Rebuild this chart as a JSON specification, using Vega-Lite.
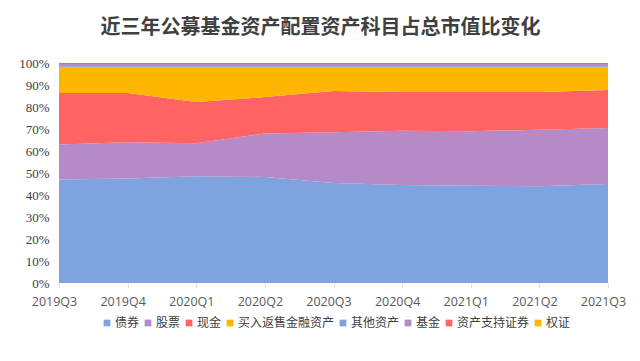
{
  "$schema": "https://vega.github.io/schema/vega-lite/v6.json",
  "width": 549,
  "height": 220,
  "autosize": {"type": "none"},
  "padding": {"left": 59, "top": 63, "right": 32, "bottom": 78},
  "background": "white",
  "title": {
    "text": "近三年公募基金资产配置资产科目占总市值比变化",
    "font": "Noto Sans CJK SC",
    "fontSize": 20,
    "fontWeight": "bold",
    "color": "#404040",
    "anchor": "middle",
    "dx": -13,
    "offset": 19
  },
  "config": {
    "view": {"stroke": null},
    "font": "Noto Sans CJK SC"
  },
  "data": {
    "values": [
      {"q": "2019Q3", "type": "债券", "k": 1, "v": 47.0},
      {"q": "2019Q3", "type": "股票", "k": 2, "v": 16.0},
      {"q": "2019Q3", "type": "现金", "k": 3, "v": 23.4},
      {"q": "2019Q3", "type": "买入返售金融资产", "k": 4, "v": 11.8},
      {"q": "2019Q3", "type": "其他资产", "k": 5, "v": 0.3},
      {"q": "2019Q3", "type": "基金", "k": 6, "v": 1.0},
      {"q": "2019Q3", "type": "资产支持证券", "k": 7, "v": 0.5},
      {"q": "2019Q3", "type": "权证", "k": 8, "v": 0.01},
      {"q": "2019Q4", "type": "债券", "k": 1, "v": 47.5},
      {"q": "2019Q4", "type": "股票", "k": 2, "v": 16.5},
      {"q": "2019Q4", "type": "现金", "k": 3, "v": 22.4},
      {"q": "2019Q4", "type": "买入返售金融资产", "k": 4, "v": 11.8},
      {"q": "2019Q4", "type": "其他资产", "k": 5, "v": 0.3},
      {"q": "2019Q4", "type": "基金", "k": 6, "v": 1.0},
      {"q": "2019Q4", "type": "资产支持证券", "k": 7, "v": 0.5},
      {"q": "2019Q4", "type": "权证", "k": 8, "v": 0.01},
      {"q": "2020Q1", "type": "债券", "k": 1, "v": 48.5},
      {"q": "2020Q1", "type": "股票", "k": 2, "v": 15.0},
      {"q": "2020Q1", "type": "现金", "k": 3, "v": 18.8},
      {"q": "2020Q1", "type": "买入返售金融资产", "k": 4, "v": 15.9},
      {"q": "2020Q1", "type": "其他资产", "k": 5, "v": 0.3},
      {"q": "2020Q1", "type": "基金", "k": 6, "v": 1.0},
      {"q": "2020Q1", "type": "资产支持证券", "k": 7, "v": 0.5},
      {"q": "2020Q1", "type": "权证", "k": 8, "v": 0.01},
      {"q": "2020Q2", "type": "债券", "k": 1, "v": 48.2},
      {"q": "2020Q2", "type": "股票", "k": 2, "v": 19.8},
      {"q": "2020Q2", "type": "现金", "k": 3, "v": 16.5},
      {"q": "2020Q2", "type": "买入返售金融资产", "k": 4, "v": 13.7},
      {"q": "2020Q2", "type": "其他资产", "k": 5, "v": 0.3},
      {"q": "2020Q2", "type": "基金", "k": 6, "v": 1.0},
      {"q": "2020Q2", "type": "资产支持证券", "k": 7, "v": 0.5},
      {"q": "2020Q2", "type": "权证", "k": 8, "v": 0.01},
      {"q": "2020Q3", "type": "债券", "k": 1, "v": 45.5},
      {"q": "2020Q3", "type": "股票", "k": 2, "v": 23.0},
      {"q": "2020Q3", "type": "现金", "k": 3, "v": 18.8},
      {"q": "2020Q3", "type": "买入返售金融资产", "k": 4, "v": 10.9},
      {"q": "2020Q3", "type": "其他资产", "k": 5, "v": 0.3},
      {"q": "2020Q3", "type": "基金", "k": 6, "v": 1.0},
      {"q": "2020Q3", "type": "资产支持证券", "k": 7, "v": 0.5},
      {"q": "2020Q3", "type": "权证", "k": 8, "v": 0.01},
      {"q": "2020Q4", "type": "债券", "k": 1, "v": 44.5},
      {"q": "2020Q4", "type": "股票", "k": 2, "v": 24.7},
      {"q": "2020Q4", "type": "现金", "k": 3, "v": 17.6},
      {"q": "2020Q4", "type": "买入返售金融资产", "k": 4, "v": 11.4},
      {"q": "2020Q4", "type": "其他资产", "k": 5, "v": 0.3},
      {"q": "2020Q4", "type": "基金", "k": 6, "v": 1.0},
      {"q": "2020Q4", "type": "资产支持证券", "k": 7, "v": 0.5},
      {"q": "2020Q4", "type": "权证", "k": 8, "v": 0.01},
      {"q": "2021Q1", "type": "债券", "k": 1, "v": 44.2},
      {"q": "2021Q1", "type": "股票", "k": 2, "v": 24.8},
      {"q": "2021Q1", "type": "现金", "k": 3, "v": 17.8},
      {"q": "2021Q1", "type": "买入返售金融资产", "k": 4, "v": 11.4},
      {"q": "2021Q1", "type": "其他资产", "k": 5, "v": 0.3},
      {"q": "2021Q1", "type": "基金", "k": 6, "v": 1.0},
      {"q": "2021Q1", "type": "资产支持证券", "k": 7, "v": 0.5},
      {"q": "2021Q1", "type": "权证", "k": 8, "v": 0.01},
      {"q": "2021Q2", "type": "债券", "k": 1, "v": 44.0},
      {"q": "2021Q2", "type": "股票", "k": 2, "v": 25.7},
      {"q": "2021Q2", "type": "现金", "k": 3, "v": 17.1},
      {"q": "2021Q2", "type": "买入返售金融资产", "k": 4, "v": 11.4},
      {"q": "2021Q2", "type": "其他资产", "k": 5, "v": 0.3},
      {"q": "2021Q2", "type": "基金", "k": 6, "v": 1.0},
      {"q": "2021Q2", "type": "资产支持证券", "k": 7, "v": 0.5},
      {"q": "2021Q2", "type": "权证", "k": 8, "v": 0.01},
      {"q": "2021Q3", "type": "债券", "k": 1, "v": 45.0},
      {"q": "2021Q3", "type": "股票", "k": 2, "v": 25.5},
      {"q": "2021Q3", "type": "现金", "k": 3, "v": 17.2},
      {"q": "2021Q3", "type": "买入返售金融资产", "k": 4, "v": 10.5},
      {"q": "2021Q3", "type": "其他资产", "k": 5, "v": 0.3},
      {"q": "2021Q3", "type": "基金", "k": 6, "v": 1.0},
      {"q": "2021Q3", "type": "资产支持证券", "k": 7, "v": 0.5},
      {"q": "2021Q3", "type": "权证", "k": 8, "v": 0.01}
    ]
  },
  "mark": {"type": "area", "interpolate": "linear"},
  "encoding": {
    "x": {
      "field": "q",
      "type": "ordinal",
      "scale": {"type": "point", "padding": 0},
      "axis": {
        "title": null,
        "labelAngle": 0,
        "labelFont": "Open Sans",
        "labelFontSize": 12.5,
        "labelColor": "#595959",
        "labelPadding": 7,
        "labelOffset": -5,
        "domain": false,
        "ticks": true,
        "tickColor": "#e0e0e0",
        "tickSize": 5,
        "grid": false
      }
    },
    "y": {
      "field": "v",
      "type": "quantitative",
      "stack": "normalize",
      "scale": {"domain": [0, 1]},
      "axis": {
        "title": null,
        "format": ".0%",
        "values": [0, 0.1, 0.2, 0.3, 0.4, 0.5, 0.6, 0.7, 0.8, 0.9, 1],
        "labelFont": "Liberation Serif",
        "labelFontSize": 13,
        "labelColor": "#404040",
        "labelPadding": 10,
        "domain": false,
        "ticks": false,
        "grid": false
      }
    },
    "order": {"field": "k", "type": "quantitative"},
    "color": {
      "field": "type",
      "type": "nominal",
      "scale": {
        "domain": ["债券", "股票", "现金", "买入返售金融资产", "其他资产", "基金", "资产支持证券", "权证"],
        "range": ["#7FA3DE", "#B48AC8", "#FF6363", "#FFB600", "#7FA3DE", "#B48AC8", "#FF6363", "#FFB600"]
      },
      "legend": {
        "title": null,
        "orient": "none",
        "legendX": 42,
        "legendY": 254,
        "direction": "horizontal",
        "columns": 8,
        "symbolType": "square",
        "symbolSize": 45,
        "symbolStrokeWidth": 0,
        "labelFont": "Noto Sans CJK SC",
        "labelFontSize": 12,
        "labelColor": "#404040",
        "labelOffset": 2,
        "columnPadding": 2
      }
    }
  }
}
